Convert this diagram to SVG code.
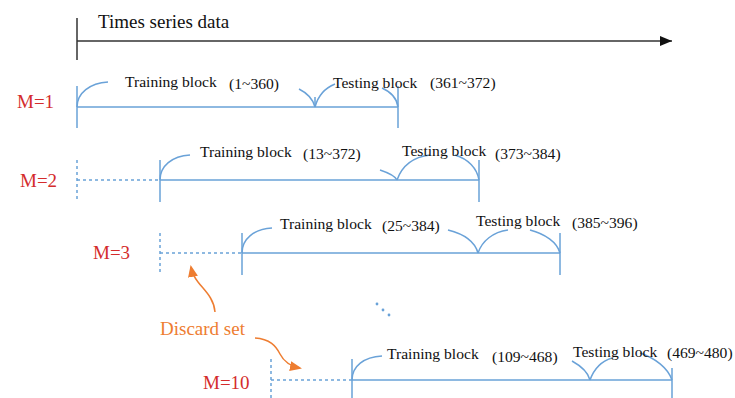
<svg xmlns="http://www.w3.org/2000/svg" width="735" height="398" viewBox="0 0 735 398">
  <defs>
    <style>
      .ln { stroke: #6aa2d8; stroke-width: 1.5; fill: none; }
      .dash { stroke: #6aa2d8; stroke-width: 1.5; fill: none; stroke-dasharray: 3 3; }
      .lbl { font-family: "Liberation Serif", "Times New Roman", serif; font-size: 15.6px; fill: #111; }
      .m { font-family: "Liberation Serif", "Times New Roman", serif; font-size: 19px; fill: #d42c2c; }
      .title { font-family: "Liberation Serif", "Times New Roman", serif; font-size: 19px; fill: #111; }
      .disc { font-family: "Liberation Serif", "Times New Roman", serif; font-size: 19px; fill: #ee7d31; }
      .orange { stroke: #ee7d31; stroke-width: 1.5; fill: none; }
    </style>
    <marker id="blackHead" viewBox="0 0 12 10" refX="12" refY="5" markerWidth="12" markerHeight="10" markerUnits="userSpaceOnUse" orient="auto">
      <path d="M0,0 L12,5 L0,10 z" fill="#111"/>
    </marker>
    <marker id="orangeHead" viewBox="0 0 12 10" refX="10" refY="5" markerWidth="12" markerHeight="10" markerUnits="userSpaceOnUse" orient="auto">
      <path d="M0,0 L12,5 L0,10 z" fill="#ee7d31"/>
    </marker>
  </defs>
  <rect width="735" height="398" fill="#ffffff"/>

  <!-- time axis -->
  <g id="axis">
    <line x1="77" y1="18" x2="77" y2="60" stroke="#333" stroke-width="1.5"/>
    <line x1="77" y1="41" x2="672" y2="41" stroke="#333" stroke-width="1.5" marker-end="url(#blackHead)"/>
    <text class="title" x="98" y="28">Times series data</text>
  </g>

  <!-- M=1 -->
  <g id="row-m1">
    <text class="m" x="17" y="108">M=1</text>
    <path class="ln" d="M77,86 V128 M77,107 H398 M398,86 V128 M315,97 V107"/>
    <path class="ln" d="M77,107 C77,93 90,83 108,82"/>
    <path class="ln" d="M299,89 C307,93 313,99 315,107"/>
    <path class="ln" d="M315,107 C318,96 325,88 335,84"/>
    <path class="ln" d="M382,88 C391,92 397,99 398,107"/>
    <text class="lbl" x="125" y="87">Training block</text>
    <text class="lbl" x="229" y="89">(1~360)</text>
    <text class="lbl" x="333" y="88">Testing block</text>
    <text class="lbl" x="430" y="88">(361~372)</text>
  </g>

  <!-- M=2 -->
  <g id="row-m2">
    <text class="m" x="20" y="187">M=2</text>
    <path class="dash" d="M77,160 V202 M77,180 H160"/>
    <path class="ln" d="M160,160 V202 M160,180 H479 M479,160 V202"/>
    <path class="ln" d="M160,180 C160,166 172,156 190,155"/>
    <path class="ln" d="M380,170 C389,173 395,176 397,180"/>
    <path class="ln" d="M397,180 C402,166 413,157 430,155"/>
    <path class="ln" d="M455,155 C468,159 477,168 479,180"/>
    <text class="lbl" x="200" y="157">Training block</text>
    <text class="lbl" x="303" y="159">(13~372)</text>
    <text class="lbl" x="402" y="156">Testing block</text>
    <text class="lbl" x="495" y="159">(373~384)</text>
  </g>

  <!-- M=3 -->
  <g id="row-m3">
    <text class="m" x="93" y="259">M=3</text>
    <path class="dash" d="M160,233 V275 M160,253 H242"/>
    <path class="ln" d="M242,233 V275 M242,253 H560 M560,233 V275"/>
    <path class="ln" d="M242,253 C242,239 254,229 272,228"/>
    <path class="ln" d="M448,230 C464,234 475,242 478,253"/>
    <path class="ln" d="M478,253 C482,241 493,232 508,230"/>
    <path class="ln" d="M530,230 C545,234 557,242 560,253"/>
    <text class="lbl" x="280" y="229">Training block</text>
    <text class="lbl" x="382" y="231">(25~384)</text>
    <text class="lbl" x="476" y="226">Testing block</text>
    <text class="lbl" x="572" y="228">(385~396)</text>
  </g>

  <!-- continuation dots -->
  <g id="ellipsis" fill="#6aa2d8">
    <circle cx="377" cy="304" r="1.4"/>
    <circle cx="383" cy="310" r="1.4"/>
    <circle cx="389" cy="315" r="1.4"/>
  </g>

  <!-- discard annotation -->
  <g id="discard">
    <text class="disc" x="160" y="335">Discard set</text>
    <path class="orange" d="M215,312 C214,298 204,290 198,282 C194,277 192,272 191,267" marker-end="url(#orangeHead)"/>
    <path class="orange" d="M255,338 C270,339 276,346 280,354 C284,362 290,366 300,368" marker-end="url(#orangeHead)"/>
  </g>

  <!-- M=10 -->
  <g id="row-m10">
    <text class="m" x="203" y="389">M=10</text>
    <path class="dash" d="M271,359 V401 M271,380 H352"/>
    <path class="ln" d="M352,359 V401 M352,380 H672 M672,368 V401"/>
    <path class="ln" d="M352,380 C352,366 364,357 382,356"/>
    <path class="ln" d="M572,361 C581,366 588,372 590,380"/>
    <path class="ln" d="M590,380 C594,369 602,361 612,358"/>
    <path class="ln" d="M640,353 C655,358 668,368 672,380"/>
    <text class="lbl" x="387" y="359">Training block</text>
    <text class="lbl" x="492" y="362">(109~468)</text>
    <text class="lbl" x="573" y="357">Testing block</text>
    <text class="lbl" x="667" y="358">(469~480)</text>
  </g>
</svg>
